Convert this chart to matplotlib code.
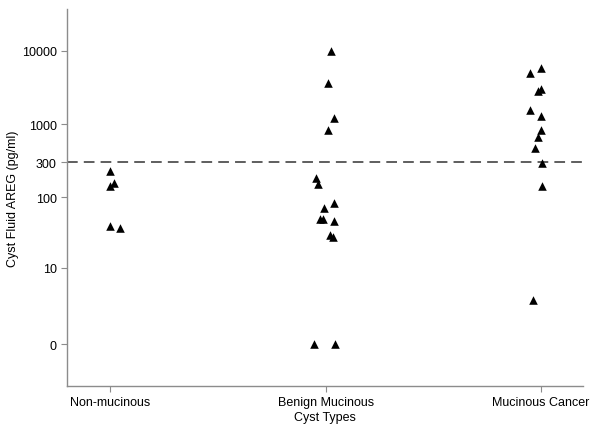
import numpy as np
import matplotlib
matplotlib.use("Agg")
import matplotlib.pyplot as plt

plt.rcParams["font.family"] = ["Liberation Sans", "DejaVu Sans"]

categories = ["Non-mucinous", "Benign Mucinous", "Mucinous Cancer"]

# AREG values (pg/ml), with the horizontal jitter of each point
non_mucinous = [230, 158, 143, 40, 37.5]
non_mucinous_jitter = [0.0, 0.019, 0.0, 0.0, 0.046]

benign_mucinous = [10000, 3600, 1220, 843, 184, 152, 83, 70, 50, 50, 46.5, 30, 28, 0, 0]
benign_mucinous_jitter = [0.023, 0.011, 0.039, 0.011, -0.043, -0.036, 0.039, -0.008,
                          -0.028, -0.014, 0.037, 0.021, 0.032, -0.056, 0.045]

mucinous_cancer = [5860, 4950, 3030, 2820, 1580, 1285, 835, 677, 470, 296, 140, 3]
mucinous_cancer_jitter = [0.0, -0.051, 0.0, -0.013, -0.051, 0.0, 0.0, -0.015,
                          -0.028, 0.003, 0.003, -0.04]

cutoff = 300
y_ticks = [0, 10, 100, 300, 1000, 10000]

groups = [
    (non_mucinous, non_mucinous_jitter),
    (benign_mucinous, benign_mucinous_jitter),
    (mucinous_cancer, mucinous_cancer_jitter),
]

fig = plt.figure(figsize=(6.0, 4.27), dpi=100)
ax = fig.add_axes([0.112, 0.094, 0.86, 0.883])

# log10(x + 1) scale so that zero values can be shown
ax.set_yscale("function", functions=(lambda v: np.log10(np.maximum(v + 1, 1e-9)),
                                     lambda t: 10 ** t - 1))

for i, (vals, jit) in enumerate(groups):
    xs = np.array(jit) + i + 1
    ax.scatter(xs, vals, marker="^", s=38, color="black", linewidths=0, zorder=3)

ax.axhline(cutoff, color="#333333", lw=1.1, linestyle=(0, (7, 4)), zorder=2)

ax.set_xlim(0.8, 3.195)
ax.set_ylim(-0.731, 37400)
ax.set_yticks(y_ticks)
ax.set_yticklabels([str(t) for t in y_ticks])
ax.set_xticks([1, 2, 3])
ax.set_xticklabels(categories)
ax.minorticks_off()

for side in ["top", "right"]:
    ax.spines[side].set_visible(False)
for side in ["left", "bottom"]:
    ax.spines[side].set_color("#8c8c8c")
    ax.spines[side].set_linewidth(1.0)
ax.tick_params(axis="both", colors="#8c8c8c", labelcolor="black", labelsize=9,
               length=4, width=0.8, direction="out")

ax.set_ylabel("Cyst Fluid AREG (pg/ml)", fontsize=9)
ax.yaxis.set_label_coords(-0.094, 0.5)
ax.set_xlabel("Cyst Types", fontsize=9)
ax.xaxis.set_label_coords(0.5, -0.066)

fig.savefig("out.png", dpi=100)
